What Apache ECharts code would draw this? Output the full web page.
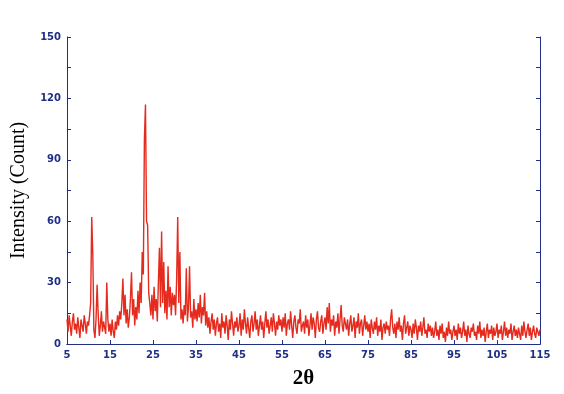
<!DOCTYPE html>
<html>
<head>
<meta charset="utf-8">
<script src="https://cdn.jsdelivr.net/npm/echarts@6/dist/echarts.min.js"></script>
<style>
  html, body { margin: 0; padding: 0; background: #fff; }
  #chart { width: 564px; height: 394px; }
</style>
</head>
<body>
<div id="chart"></div>
<script>
// 2-theta from 5 to 115, step 0.25
const thetaStart = 5;
const thetaStep = 0.25;
const xTicks = [5, 15, 25, 35, 45, 55, 65, 75, 85, 95, 105, 115];
const yTicks = [0, 30, 60, 90, 120, 150];

// intensity readings, 20 per 5 degrees
const counts05 = [12, 6, 14, 9, 4, 11, 15, 7, 10, 5, 13, 8, 3, 12, 9, 6, 14, 10, 5, 11];
const counts10 = [9, 14, 20, 62, 44, 7, 3, 12, 29, 15, 4, 9, 16, 6, 11, 8, 5, 30, 12, 6];
const counts15 = [10, 4, 12, 6, 3, 11, 7, 14, 9, 16, 12, 20, 32, 14, 24, 10, 17, 8, 13, 22];
const counts20 = [35, 14, 22, 9, 18, 12, 26, 15, 30, 20, 45, 34, 100, 117, 60, 58, 25, 20, 14, 24];
const counts25 = [12, 28, 16, 22, 11, 30, 47, 18, 55, 20, 40, 15, 26, 12, 38, 18, 28, 14, 25, 19];
const counts30 = [24, 14, 32, 62, 20, 45, 12, 17, 10, 19, 14, 37, 11, 18, 38, 13, 16, 8, 22, 12];
const counts35 = [17, 11, 20, 13, 24, 10, 18, 14, 25, 9, 16, 8, 13, 5, 11, 15, 7, 12, 4, 10];
const counts40 = [13, 6, 10, 3, 15, 8, 11, 5, 14, 9, 2, 12, 7, 16, 10, 4, 11, 8, 13, 6];
const counts45 = [9, 15, 4, 12, 7, 17, 10, 5, 13, 8, 3, 11, 14, 6, 10, 16, 7, 12, 4, 9];
const counts50 = [14, 7, 11, 3, 10, 16, 8, 12, 5, 9, 13, 6, 15, 10, 4, 11, 7, 14, 9, 12];
const counts55 = [6, 13, 8, 15, 4, 10, 12, 7, 16, 9, 3, 11, 14, 8, 5, 12, 10, 17, 6, 9];
const counts60 = [11, 5, 14, 8, 12, 4, 9, 15, 7, 13, 10, 3, 12, 16, 8, 6, 11, 14, 5, 10];
const counts65 = [13, 7, 18, 10, 20, 6, 12, 9, 14, 4, 11, 8, 15, 5, 12, 19, 9, 6, 13, 10];
const counts70 = [7, 12, 4, 10, 14, 6, 9, 13, 3, 11, 8, 15, 5, 10, 12, 4, 9, 14, 7, 11];
const counts75 = [6, 10, 3, 12, 8, 5, 11, 7, 13, 4, 9, 6, 12, 2, 8, 10, 5, 11, 7, 9];
const counts80 = [4, 12, 17, 8, 5, 10, 3, 11, 7, 13, 6, 9, 2, 10, 14, 5, 8, 11, 4, 9];
const counts85 = [7, 3, 10, 5, 12, 8, 2, 9, 6, 11, 4, 8, 13, 5, 7, 3, 10, 6, 9, 4];
const counts90 = [8, 3, 6, 11, 4, 7, 2, 9, 5, 10, 3, 6, 1, 8, 4, 11, 5, 7, 2, 6];
const counts95 = [9, 4, 7, 2, 10, 5, 8, 3, 6, 11, 4, 7, 1, 9, 5, 3, 8, 6, 10, 4];
const counts100 = [6, 2, 9, 5, 11, 3, 7, 4, 8, 1, 6, 10, 3, 7, 5, 9, 2, 8, 4, 6];
const counts105 = [10, 3, 7, 5, 9, 2, 6, 11, 4, 8, 3, 7, 5, 10, 2, 6, 9, 4, 7, 3];
const counts110 = [8, 5, 2, 9, 4, 11, 6, 3, 7, 10, 4, 8, 2, 6, 9, 5, 3, 8, 6, 4];
const counts115 = [7];

const counts = [].concat(counts05, counts10, counts15, counts20, counts25, counts30,
  counts35, counts40, counts45, counts50, counts55, counts60, counts65, counts70,
  counts75, counts80, counts85, counts90, counts95, counts100, counts105, counts110, counts115);
const points = counts.map((c, i) => [thetaStart + i * thetaStep, c]);

const axisBlue = "#1f2f86";
const labelStyle = { color: axisBlue, fontFamily: "DejaVu Sans", fontWeight: "bold", fontSize: 10 };

const chart = echarts.init(document.getElementById("chart"), null, { renderer: "canvas" });
chart.setOption({
  animation: false,
  grid: { left: 67, right: 24, top: 37, bottom: 41 },
  xAxis: [
    {
      type: "value", min: 5, max: 115, interval: 10,
      name: "2θ", nameLocation: "middle", nameGap: 24,
      nameTextStyle: { fontFamily: "Liberation Serif", fontWeight: "bold", fontSize: 21, color: "#000" },
      axisLine: { lineStyle: { color: axisBlue, width: 1 } },
      axisTick: { inside: true, length: 4, lineStyle: { color: axisBlue } },
      axisLabel: { ...labelStyle, margin: 6, customValues: xTicks },
      splitLine: { show: false },
    },
    {
      type: "value", position: "top", min: 5, max: 115, interval: 10,
      axisLine: { lineStyle: { color: axisBlue, width: 1 } },
      axisTick: { show: false },
      axisLabel: { show: false },
      splitLine: { show: false },
    },
  ],
  yAxis: [
    {
      type: "value", min: 0, max: 150, interval: 30,
      name: "Intensity (Count)", nameLocation: "middle", nameGap: 36,
      nameTextStyle: { fontFamily: "Liberation Serif", fontSize: 20, color: "#000" },
      axisLine: { show: true, lineStyle: { color: axisBlue, width: 1 } },
      axisTick: { inside: true, length: 4, lineStyle: { color: axisBlue } },
      minorTick: { show: true, splitNumber: 2, length: 4, lineStyle: { color: axisBlue } },
      axisLabel: { ...labelStyle, margin: 6, customValues: yTicks },
      splitLine: { show: false },
    },
    {
      type: "value", position: "right", min: 0, max: 150, interval: 30,
      axisLine: { show: true, lineStyle: { color: axisBlue, width: 1 } },
      axisTick: { inside: true, length: 4, lineStyle: { color: axisBlue } },
      minorTick: { show: true, splitNumber: 2, length: 4, lineStyle: { color: axisBlue } },
      axisLabel: { show: false },
      splitLine: { show: false },
    },
  ],
  series: [
    {
      type: "line",
      data: points,
      showSymbol: false,
      lineStyle: { color: "#e52a1e", width: 1.4 },
      itemStyle: { color: "#e52a1e" },
    },
  ],
});
</script>
</body>
</html>
